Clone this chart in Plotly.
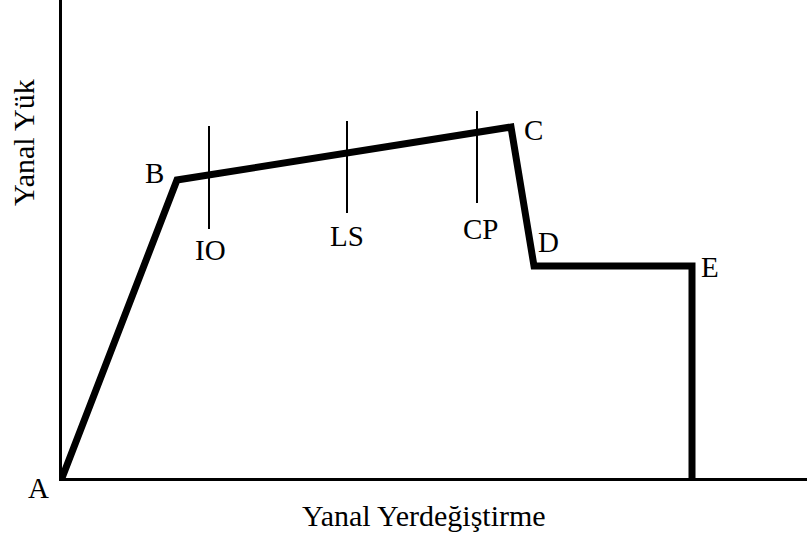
import plotly.graph_objects as go

# Capacity curve points (displacement, load) in chart units
disp = [0, 115, 449, 472, 630, 630]
load = [0, 298, 351, 212, 212, 0]

# Performance levels: position on displacement axis and vertical extent of marker line
perf_names = ["IO", "LS", "CP"]
perf_disp = [147, 285, 415]
perf_low = [249, 265, 275]
perf_high = [352, 357, 367]

# Label positions (chart units)
pt_label_names = ["B", "C", "D", "E"]
pt_label_x = [92, 471, 486, 648]
pt_label_y = [305, 348, 236, 211]
perf_label_x = [148, 285, 418]
perf_label_y = [228, 242, 249]

x_title = "Yanal Yerdeğiştirme"
y_title = "Yanal Yük"
origin_label = "A"

X_MAX = 745
Y_MAX = 478
FONT = "Liberation Serif, Times New Roman, serif"

fig = go.Figure()
fig.add_trace(go.Scatter(x=disp, y=load, mode="lines",
                         line=dict(color="black", width=7),
                         hoverinfo="skip", showlegend=False))
for px, lo, hi in zip(perf_disp, perf_low, perf_high):
    fig.add_trace(go.Scatter(x=[px, px], y=[lo, hi], mode="lines",
                             line=dict(color="black", width=2),
                             hoverinfo="skip", showlegend=False))

annotations = []
for t, x, y in zip(pt_label_names, pt_label_x, pt_label_y):
    annotations.append(dict(x=x, y=y, xref="x", yref="y", text=t, showarrow=False,
                            xanchor="center", yanchor="middle",
                            font=dict(family=FONT, size=29, color="black")))
for t, x, y in zip(perf_names, perf_label_x, perf_label_y):
    annotations.append(dict(x=x, y=y, xref="x", yref="y", text=t, showarrow=False,
                            xanchor="center", yanchor="middle",
                            font=dict(family=FONT, size=29, color="black")))
# labels outside the plotting area (paper coordinates)
annotations.append(dict(x=-24 / X_MAX, y=-10 / Y_MAX, xref="paper", yref="paper",
                        text=origin_label, showarrow=False,
                        xanchor="center", yanchor="middle",
                        font=dict(family=FONT, size=29, color="black")))
annotations.append(dict(x=362 / X_MAX, y=-37 / Y_MAX, xref="paper", yref="paper",
                        text=x_title, showarrow=False,
                        xanchor="center", yanchor="middle",
                        font=dict(family=FONT, size=30, color="black")))
annotations.append(dict(x=-39 / X_MAX, y=335 / Y_MAX, xref="paper", yref="paper",
                        text=y_title, showarrow=False, textangle=-90,
                        xanchor="center", yanchor="middle",
                        font=dict(family=FONT, size=30, color="black")))

fig.update_layout(
    width=807, height=533,
    margin=dict(l=62, r=0, t=0, b=55),
    paper_bgcolor="white", plot_bgcolor="white",
    xaxis=dict(range=[0, X_MAX], showgrid=False, zeroline=False, showticklabels=False,
               ticks="", showline=True, linecolor="black", linewidth=3, fixedrange=True),
    yaxis=dict(range=[0, Y_MAX], showgrid=False, zeroline=False, showticklabels=False,
               ticks="", showline=True, linecolor="black", linewidth=3, fixedrange=True),
    annotations=annotations,
    showlegend=False,
)

fig.write_html("out.html", config={"displayModeBar": False},
               post_script="document.body.style.margin='0px';document.body.style.overflow='hidden';")
